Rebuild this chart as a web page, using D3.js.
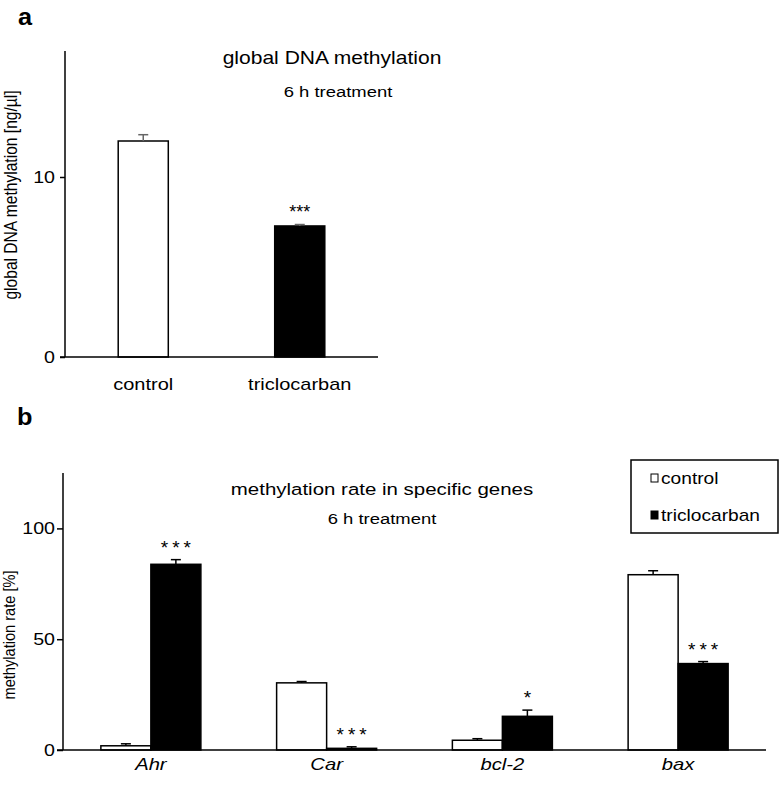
<!DOCTYPE html>
<html>
<head>
<meta charset="utf-8">
<script src="https://cdn.jsdelivr.net/npm/d3@7"></script>
<style>
  html, body { margin: 0; padding: 0; background: #fff; }
  svg { display: block; font-family: "Liberation Sans", Arial, Helvetica, sans-serif; }
</style>
</head>
<body>
<svg id="chart" width="780" height="788"></svg>
<script>
// ---------- data ----------
// panel a: global DNA methylation
const panelACategories = ["control", "triclocarban"];
const panelAValues = [12.0, 7.28];
const panelAErrors = [0.35, 0.08];
const panelASig = ["", "***"];
const panelATicks = [0, 10];
const panelAMax = 17;

// panel b: methylation rate in specific genes
const genes = ["Ahr", "Car", "bcl-2", "bax"];
const seriesNames = ["control", "triclocarban"];
const controlValues = [1.9, 30.3, 4.4, 79.1];
const controlErrors = [0.9, 0.6, 0.7, 1.8];
const triclocarbanValues = [83.8, 0.75, 15.2, 39.0];
const triclocarbanErrors = [2.1, 0.7, 2.8, 0.9];
const controlSig = ["", "", "", ""];
const triclocarbanSig = ["***", "***", "*", "***"];
const panelBTicks = [0, 50, 100];
const panelBMax = 125;

// ---------- helpers ----------
const SX = 1.19; // horizontal stretch of the reference's lettering
const svg = d3.select("#chart");
const fills = { control: "#ffffff", triclocarban: "#000000" };

function addText(sel, x, y, s, size, opts = {}) {
  const t = sel.append("text")
    .attr("transform", `translate(${x},${y}) scale(${opts.sx ?? SX},1)`)
    .attr("text-anchor", opts.anchor || "middle")
    .attr("font-size", size)
    .attr("fill", "#000")
    .text(s);
  if (opts.weight) t.attr("font-weight", opts.weight);
  if (opts.italic) t.attr("font-style", "italic");
  if (opts.spacing) t.attr("letter-spacing", opts.spacing);
  return t;
}
function addVText(sel, x, y, s, size) {
  return sel.append("text")
    .attr("transform", `translate(${x},${y}) rotate(-90) scale(1,1.17)`)
    .attr("text-anchor", "middle")
    .attr("font-size", size)
    .attr("fill", "#000")
    .text(s);
}
function styleAxis(g, dx) {
  g.select(".domain").remove();
  g.selectAll(".tick line").attr("stroke", "#000").attr("stroke-width", 1.5);
  g.selectAll(".tick text")
    .attr("fill", "#000")
    .attr("font-size", 16.5)
    .attr("font-family", "Liberation Sans, Arial, sans-serif")
    .attr("x", null)
    .attr("transform", `translate(${dx},0) scale(${SX},1)`);
}

// ---------- panel a ----------
{
  const left = 65, right = 378, top = 51, bottom = 357;
  const x = d3.scaleBand().domain(panelACategories).range([left, right])
    .paddingInner(0.68).paddingOuter(0.34);
  const y = d3.scaleLinear().domain([0, panelAMax]).range([bottom, top]);
  const g = svg.append("g");

  addText(g, 18, 25, "a", 23, { anchor: "start", weight: "bold", sx: 1.1 });

  // y axis
  const ax = g.append("g").attr("transform", `translate(${left},0)`)
    .call(d3.axisLeft(y).tickValues(panelATicks).tickSize(5).tickPadding(6).tickFormat(d3.format("d")));
  styleAxis(ax, -10);
  g.append("line").attr("x1", left).attr("x2", left).attr("y1", top).attr("y2", bottom)
    .attr("stroke", "#000").attr("stroke-width", 1.5);

  // bars
  panelACategories.forEach((c, i) => {
    const bx = x(c), bw = x.bandwidth();
    g.append("rect").attr("x", bx).attr("y", y(panelAValues[i]))
      .attr("width", bw).attr("height", y(0) - y(panelAValues[i]))
      .attr("fill", fills[c]).attr("stroke", "#000").attr("stroke-width", 1.5);
    const cx = bx + bw / 2, yt = y(panelAValues[i] + panelAErrors[i]);
    g.append("line").attr("x1", cx).attr("x2", cx).attr("y1", y(panelAValues[i])).attr("y2", yt)
      .attr("stroke", "#666").attr("stroke-width", 1.5);
    g.append("line").attr("x1", cx - 5).attr("x2", cx + 5).attr("y1", yt).attr("y2", yt)
      .attr("stroke", "#666").attr("stroke-width", 1.5);
    if (panelASig[i]) addText(g, cx, yt - 7, panelASig[i], 18, { sx: 1.0 });
    addText(g, cx, 390, c, 16.8);
  });

  // baseline
  g.append("line").attr("x1", left - 5).attr("x2", right).attr("y1", bottom).attr("y2", bottom)
    .attr("stroke", "#000").attr("stroke-width", 1.5);

  addText(g, 332, 64, "global DNA methylation", 17.7);
  addText(g, 338, 97, "6 h treatment", 15.5);
  addVText(g, 17, 195, "global DNA methylation [ng/µl]", 15.6);
}

// ---------- panel b ----------
{
  const left = 63, right = 766, top = 473, bottom = 750;
  const x0 = d3.scaleBand().domain(genes).range([left, right])
    .paddingInner(0.431).paddingOuter(0.2155);
  const x1 = d3.scaleBand().domain(seriesNames).range([0, x0.bandwidth()]);
  const y = d3.scaleLinear().domain([0, panelBMax]).range([bottom, top]);
  const g = svg.append("g");

  addText(g, 17, 425, "b", 23, { anchor: "start", weight: "bold", sx: 1.1 });

  const ax = g.append("g").attr("transform", `translate(${left},0)`)
    .call(d3.axisLeft(y).tickValues(panelBTicks).tickSize(6).tickPadding(6).tickFormat(d3.format("d")));
  styleAxis(ax, -8);
  g.append("line").attr("x1", left).attr("x2", left).attr("y1", top).attr("y2", bottom)
    .attr("stroke", "#000").attr("stroke-width", 1.5);

  const seriesData = {
    control: { v: controlValues, e: controlErrors, s: controlSig },
    triclocarban: { v: triclocarbanValues, e: triclocarbanErrors, s: triclocarbanSig }
  };

  genes.forEach((gene, i) => {
    seriesNames.forEach(sn => {
      const d = seriesData[sn];
      const bx = x0(gene) + x1(sn), bw = x1.bandwidth();
      g.append("rect").attr("x", bx).attr("y", y(d.v[i]))
        .attr("width", bw).attr("height", y(0) - y(d.v[i]))
        .attr("fill", fills[sn]).attr("stroke", "#000").attr("stroke-width", 1.5);
      const cx = bx + bw / 2, yt = y(d.v[i] + d.e[i]);
      g.append("line").attr("x1", cx).attr("x2", cx).attr("y1", y(d.v[i])).attr("y2", yt)
        .attr("stroke", "#000").attr("stroke-width", 1.5);
      g.append("line").attr("x1", cx - 5).attr("x2", cx + 5).attr("y1", yt).attr("y2", yt)
        .attr("stroke", "#000").attr("stroke-width", 1.5);
      if (d.s[i]) addText(g, cx + 2, yt - 6, d.s[i], 19, { sx: 1.0, spacing: 4 });
    });
    addText(g, x0(gene) + x0.bandwidth() / 2, 770, gene, 17, { italic: true });
  });

  g.append("line").attr("x1", left - 6).attr("x2", right).attr("y1", bottom).attr("y2", bottom)
    .attr("stroke", "#000").attr("stroke-width", 1.5);

  addText(g, 382, 495, "methylation rate in specific genes", 17.2);
  addText(g, 382, 524, "6 h treatment", 15.5);
  addVText(g, 15, 635, "methylation rate [%]", 14.6);

  // legend
  const lg = g.append("g");
  lg.append("rect").attr("x", 631).attr("y", 460).attr("width", 147).attr("height", 73)
    .attr("fill", "#fff").attr("stroke", "#000").attr("stroke-width", 1.5);
  seriesNames.forEach((sn, i) => {
    const cy = 478 + i * 37;
    lg.append("rect").attr("x", 651).attr("y", cy - 4).attr("width", 7).attr("height", 8)
      .attr("fill", fills[sn]).attr("stroke", "#000").attr("stroke-width", 1);
    addText(lg, 661, cy + 6, sn, 16.1, { anchor: "start" });
  });
}
</script>
</body>
</html>
